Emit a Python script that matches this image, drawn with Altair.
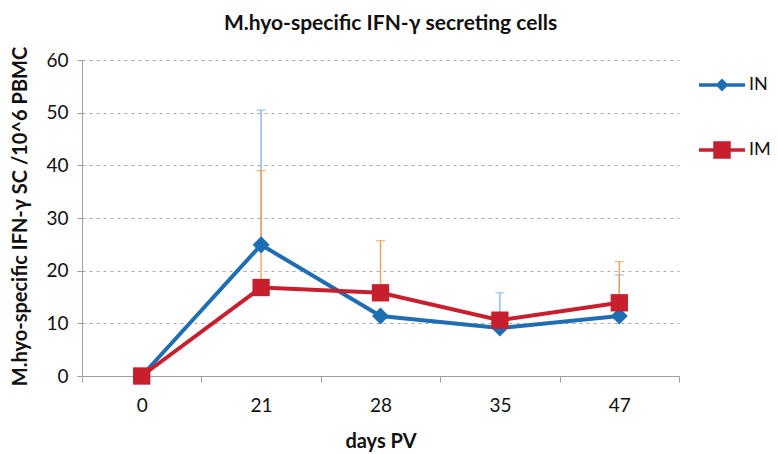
import altair as alt
import pandas as pd

days = ["0", "21", "28", "35", "47"]
series_names = ["IN", "IM"]
in_mean = [0, 24.9, 11.4, 9.1, 11.4]
in_upper = [0, 50.5, 11.4, 15.8, 19.2]
im_mean = [0, 16.8, 15.8, 10.6, 13.9]
im_upper = [0, 39.0, 25.7, 10.6, 21.7]

blue = "#1f6db3"
red = "#c81f2f"
blue_err = "#7fb0dc"
red_err = "#f0a048"

rows = []
for name, means, ups in [("IN", in_mean, in_upper), ("IM", im_mean, im_upper)]:
    for d, m, u in zip(days, means, ups):
        rows.append({"day": d, "series": name, "mean": m, "upper": u})
df = pd.DataFrame(rows)

FONT = "Lato"

x_enc = alt.X(
    "day:N",
    sort=days,
    scale=alt.Scale(type="band", paddingInner=0, paddingOuter=0),
    axis=alt.Axis(
        title="days PV",
        tickBand="extent",
        tickSize=6,
        tickColor="#a0a0a0",
        domainColor="#a0a0a0",
        labelAngle=0,
        labelFontSize=19,
        labelFont=FONT,
        labelColor="#111111",
        labelPadding=14,
        titleFont=FONT,
        titleFontSize=20,
        titleFontWeight="bold",
        titleColor="#111111",
        titleY=65,
        titleBaseline="middle",
        grid=False,
    ),
)
y_scale = alt.Scale(domain=[0, 60], nice=False)
y_axis = alt.Axis(
    title="M.hyo-specific IFN-γ SC /10^6 PBMC",
    values=[0, 10, 20, 30, 40, 50, 60],
    tickSize=5,
    tickColor="#a0a0a0",
    domainColor="#a0a0a0",
    labelFontSize=19,
    labelFont=FONT,
    labelColor="#111111",
    labelPadding=9,
    grid=True,
    gridColor="#a8a8a8",
    gridDash=[3, 4],
    gridWidth=1,
    titleFont=FONT,
    titleFontSize=20,
    titleFontWeight="bold",
    titleColor="#111111",
    titleX=-62,
    titleY=156,
    titleAngle=-90,
    titleAlign="center",
    titleBaseline="middle",
)

base = alt.Chart(df)


def err_layers(name, color):
    sub = base.transform_filter(alt.datum.series == name).transform_filter(
        alt.datum.upper > alt.datum.mean
    )
    rule = sub.mark_rule(color=color, strokeWidth=1.3).encode(
        x=x_enc, y=alt.Y("mean:Q", scale=y_scale, axis=y_axis), y2="upper:Q"
    )
    cap = sub.mark_tick(color=color, thickness=1.3, size=9).encode(
        x=x_enc, y=alt.Y("upper:Q", scale=y_scale, axis=y_axis)
    )
    return rule + cap


def series_layers(name, color, shape, size):
    sub = base.transform_filter(alt.datum.series == name)
    line = sub.mark_line(color=color, strokeWidth=4).encode(
        x=x_enc, y=alt.Y("mean:Q", scale=y_scale, axis=y_axis)
    )
    pts = sub.mark_point(
        color=color, fill=color, filled=True, shape=shape, size=size, opacity=1
    ).encode(x=x_enc, y=alt.Y("mean:Q", scale=y_scale, axis=y_axis))
    return line + pts


path_in = "M-1,-0.08H1V0.08H-1Z M0,-0.28L0.28,0L0,0.28L-0.28,0Z"
path_im = "M-1,-0.08H1V0.08H-1Z M-0.38,-0.38H0.38V0.38H-0.38Z"

legend_props = dict(
    title=None,
    orient="none",
    legendX=617,
    legendY=2,
    padding=0,
    symbolSize=2116,
    symbolStrokeWidth=0,
    symbolOpacity=1,
    labelFontSize=18,
    labelFont=FONT,
    labelColor="#111111",
    labelOffset=4,
    rowPadding=33,
)

legend_layer = (
    base.transform_filter("false")
    .mark_point(filled=True, opacity=1)
    .encode(
        x=x_enc,
        y=alt.Y("mean:Q", scale=y_scale, axis=y_axis),
        color=alt.Color(
            "series:N",
            scale=alt.Scale(domain=series_names, range=[blue, red]),
            legend=alt.Legend(**legend_props),
        ),
        shape=alt.Shape(
            "series:N",
            scale=alt.Scale(domain=series_names, range=[path_in, path_im]),
            legend=alt.Legend(**legend_props),
        ),
    )
)

chart = (
    alt.layer(
        err_layers("IN", blue_err),
        err_layers("IM", red_err),
        series_layers("IN", blue, "diamond", 290),
        series_layers("IM", red, "square", 300),
        legend_layer,
    )
    .properties(
        width=597,
        height=316,
        title=alt.TitleParams(
            "M.hyo-specific IFN-γ secreting cells",
            font=FONT,
            fontSize=21,
            fontWeight="bold",
            color="#111111",
            anchor="middle",
            offset=12,
            dx=10,
        ),
        autosize=alt.AutoSizeParams(type="none"),
        padding={"left": 74, "top": 52, "right": 91, "bottom": 76},
    )
    .configure_view(stroke=None)
)

chart.save("out.html", embed_options={"renderer": "svg", "actions": False})
